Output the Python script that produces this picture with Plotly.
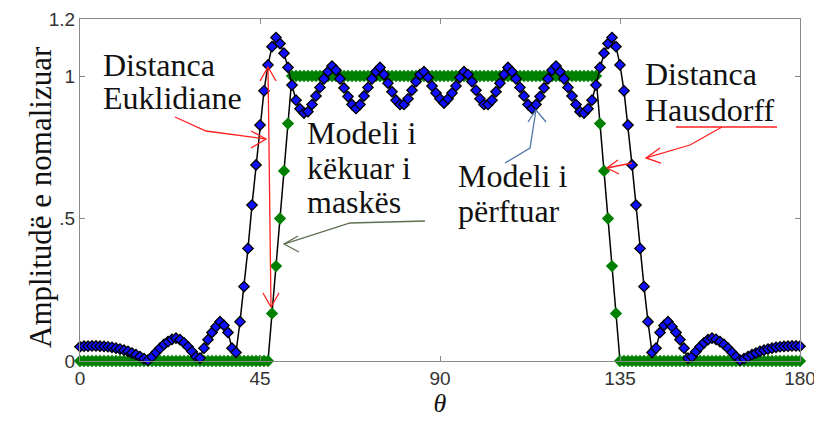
import plotly.graph_objects as go

theta = list(range(0, 181))

# Desired mask ("Modeli i kërkuar i maskës")
mask = [
    0, 0, 0, 0, 0, 0, 0, 0, 0, 0, 0, 0, 0, 0, 0, 0, 0, 0, 0, 0,
    0, 0, 0, 0, 0, 0, 0, 0, 0, 0, 0, 0, 0, 0, 0, 0, 0, 0, 0, 0,
    0, 0, 0, 0, 0, 0, 0, 0,
    0.167, 0.333, 0.5, 0.667, 0.833,
    1, 1, 1, 1, 1, 1, 1, 1, 1, 1, 1, 1, 1, 1, 1, 1, 1, 1, 1, 1,
    1, 1, 1, 1, 1, 1, 1, 1, 1, 1, 1, 1, 1, 1, 1, 1, 1, 1, 1, 1,
    1, 1, 1, 1, 1, 1, 1, 1, 1, 1, 1, 1, 1, 1, 1, 1, 1, 1, 1, 1,
    1, 1, 1, 1, 1, 1, 1, 1, 1, 1, 1, 1, 1, 1, 1, 1, 1,
    0.833, 0.667, 0.5, 0.333, 0.167,
    0, 0, 0, 0, 0, 0, 0, 0, 0, 0, 0, 0, 0, 0, 0, 0, 0, 0, 0, 0,
    0, 0, 0, 0, 0, 0, 0, 0, 0, 0, 0, 0, 0, 0, 0, 0, 0, 0, 0, 0,
    0, 0, 0, 0, 0, 0,
]

# Obtained pattern ("Modeli i përftuar")
model = [
    0.050, 0.052, 0.052, 0.053, 0.053, 0.052, 0.051, 0.050, 0.048, 0.045,
    0.042, 0.038, 0.034, 0.028, 0.022, 0.015, 0.008, 0.003, 0.015, 0.030,
    0.045, 0.058, 0.068, 0.076, 0.080, 0.075, 0.064, 0.050, 0.033, 0.015,
    0.010, 0.045, 0.075, 0.100, 0.120, 0.138, 0.125, 0.100, 0.045, 0.030,
    0.138, 0.261, 0.395, 0.547, 0.688, 0.828, 0.948, 1.039, 1.103, 1.135,
    1.114, 1.080, 1.030, 0.968, 0.915, 0.885, 0.870, 0.875, 0.900, 0.930,
    0.960, 0.990, 1.015, 1.035, 1.020, 0.990, 0.958, 0.928, 0.900, 0.886,
    0.900, 0.930, 0.960, 0.990, 1.015, 1.030, 1.005, 0.975, 0.945, 0.915,
    0.900, 0.900, 0.920, 0.950, 0.980, 1.005, 1.015, 0.995, 0.965, 0.940,
    0.920, 0.905,
    0.920, 0.940, 0.965, 0.995, 1.015, 1.005, 0.980, 0.950, 0.920, 0.900,
    0.900, 0.915, 0.945, 0.975, 1.005, 1.030, 1.015, 0.990, 0.960, 0.930,
    0.900, 0.886, 0.900, 0.928, 0.958, 0.990, 1.020, 1.035, 1.015, 0.990,
    0.960, 0.930, 0.900, 0.875, 0.870, 0.885, 0.915, 0.968, 1.030, 1.080,
    1.114, 1.135, 1.103, 1.039, 0.948, 0.828, 0.688, 0.547, 0.395, 0.261,
    0.138, 0.030, 0.045, 0.100, 0.125, 0.138, 0.120, 0.100, 0.075, 0.045,
    0.010, 0.015, 0.033, 0.050, 0.064, 0.075, 0.080, 0.076, 0.068, 0.058,
    0.045, 0.030, 0.015, 0.003, 0.008, 0.015, 0.022, 0.028, 0.034, 0.038,
    0.042, 0.045, 0.048, 0.050, 0.051, 0.052, 0.053, 0.053, 0.052,
]

x_ticks = [0, 45, 90, 135, 180]
x_tick_labels = ["0", "45", "90", "135", "180"]
y_ticks = [0, 0.5, 1, 1.2]
y_tick_labels = ["0", ".5", "1", "1.2"]

SERIF = "Liberation Serif, Times New Roman, serif"
SANS = "Liberation Sans, Arial, sans-serif"

fig = go.Figure()
fig.add_trace(go.Scatter(
    x=theta, y=mask, mode="lines+markers", cliponaxis=False,
    line=dict(color="black", width=1.5),
    marker=dict(symbol="diamond", size=9.5, color="#008000", line=dict(width=0)),
    showlegend=False))
fig.add_trace(go.Scatter(
    x=theta, y=model, mode="lines+markers", cliponaxis=False,
    line=dict(color="black", width=1.5),
    marker=dict(symbol="diamond", size=8, color="#1010ff", line=dict(color="black", width=1.3)),
    showlegend=False))

# pixel (window) -> data helper for annotation geometry
X0, XS, Y0, YS = 80.0, 4.0, 361.0, 285.0
def P(x, y):
    return (x - X0) / XS, (Y0 - y) / YS

def path(points):
    pts = [P(*p) for p in points]
    return "M " + " L ".join(f"{a:.4f},{b:.4f}" for a, b in pts)

shapes = []
def poly(points, color, width=1.3):
    shapes.append(dict(type="path", xref="x", yref="y", path=path(points),
                       line=dict(color=color, width=width)))

RED = "#ff2020"
OLIVE = "#5f7050"
STEEL = "#4f74a8"

# Euclidean distance arrows
poly([(175, 117), (206, 131), (266, 139)], RED)
poly([(251, 131), (266, 139), (251, 148)], RED)
poly([(268, 67), (271, 307)], RED)
poly([(260, 81), (268, 67), (276, 81)], RED)
poly([(263, 293), (271, 307), (279, 293)], RED)
# Hausdorff
poly([(676, 127), (777, 127)], RED)
poly([(722, 127), (690, 145), (646, 158)], RED)
poly([(660, 148), (646, 158), (661, 163)], RED)
poly([(607, 168), (632, 163)], RED)
poly([(618, 160), (607, 168), (619, 174)], RED)
# mask arrow
poly([(425, 221), (350, 223), (284, 244)], OLIVE)
poly([(298, 236), (284, 244), (299, 252)], OLIVE)
# obtained model arrow
poly([(505, 163), (530, 148), (536, 110)], STEEL)
poly([(528, 122), (536, 110), (546, 122)], STEEL)

annotations = []
def label(text, x, baseline, size=32):
    X, Y = P(x, baseline - 10)
    annotations.append(dict(text=text, x=X, y=Y, xref="x", yref="y", showarrow=False,
                            xanchor="left", yanchor="middle",
                            font=dict(family=SERIF, size=size, color="#111111")))

label("Distanca", 101, 75)
label("Euklidiane", 101, 108)
label("Modeli i", 305, 143)
label("këkuar i", 305, 178)
label("maskës", 305, 212)
label("Modeli i", 456, 186)
label("përftuar", 456, 221)
label("Distanca", 643, 84)
label("Hausdorff", 643, 120)

# y-axis title placed as rotated text (paper coordinates; plot area spans x 80..800, y 19..361)
annotations.append(dict(text="Amplitudë e nomalizuar",
                        x=(40 - 80) / 720.0, y=(361 - 197) / 342.0,
                        xref="paper", yref="paper",
                        showarrow=False, textangle=-90, xanchor="center", yanchor="middle",
                        font=dict(family=SERIF, size=31, color="#111111")))

axis_common = dict(
    showline=True, linecolor="#8a8a8a", linewidth=1, mirror="ticks",
    ticks="inside", ticklen=5, tickcolor="#8a8a8a", showgrid=False, zeroline=False,
    automargin=False,
    tickfont=dict(family=SANS, size=19, color="#333333"),
)

# the page body adds an 8px offset, so margins are reduced by 8 on the left/top
fig.update_layout(
    width=822, height=423,
    margin=dict(l=72, r=30, t=11, b=70, autoexpand=False),
    paper_bgcolor="white", plot_bgcolor="white",
    xaxis=dict(range=[0, 180], tickvals=x_ticks, ticktext=x_tick_labels,
               title=dict(text="<i>θ</i>", font=dict(family=SERIF, size=26, color="#111111"), standoff=0),
               **axis_common),
    yaxis=dict(range=[0, 1.2], tickvals=y_ticks, ticktext=y_tick_labels,
               **axis_common),
    shapes=shapes, annotations=annotations,
)

fig.write_html("out.html")
